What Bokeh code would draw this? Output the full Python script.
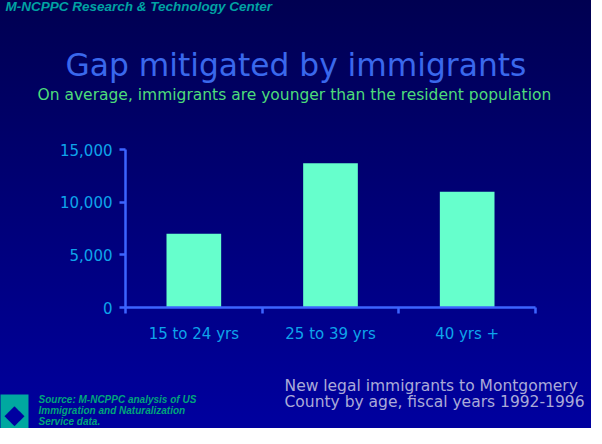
from bokeh.plotting import figure
from bokeh.models import Range1d, FixedTicker, NumeralTickFormatter, Title
from bokeh.embed import file_html
from bokeh.resources import INLINE

# ---- data ----
categories = ["15 to 24 yrs", "25 to 39 yrs", "40 yrs +"]
immigrants = [7000, 13700, 11000]
y_ticks = [0, 5000, 10000, 15000]

header = "M-NCPPC Research & Technology Center"
title = "Gap mitigated by immigrants"
subtitle = "On average, immigrants are younger than the resident population"
note_lines = ["New legal immigrants to Montgomery", "County by age, fiscal years 1992-1996"]
source_lines = ["Source: M-NCPPC analysis of US", "Immigration and Naturalization", "Service data."]

AXIS = "#3c64ff"
TICK_TXT = "#0ea4ea"

p = figure(width=591, height=428, output_backend="svg", toolbar_location=None,
           x_range=Range1d(0, len(categories)), y_range=Range1d(0, 15000),
           min_border_left=125, min_border_right=56, min_border_top=149, min_border_bottom=121)

p.background_fill_alpha = 0
p.border_fill_alpha = 0
p.outline_line_color = None
p.styles = {"background": "linear-gradient(to bottom, #000051, #00009f)"}
p.xgrid.visible = False
p.ygrid.visible = False

centers = [i + 0.5 for i in range(len(categories))]
p.vbar(x=centers, top=immigrants, width=0.4, color="#66ffcc", line_color=None)

xa = p.xaxis[0]
xa.ticker = FixedTicker(ticks=centers, minor_ticks=list(range(len(categories) + 1)))
xa.major_label_overrides = {c: lab for c, lab in zip(centers, categories)}
xa.major_tick_in = 0
xa.major_tick_out = 0
xa.minor_tick_in = 0
xa.minor_tick_out = 6
xa.minor_tick_line_color = AXIS
xa.minor_tick_line_width = 2.5
xa.major_label_standoff = 11

ya = p.yaxis[0]
ya.ticker = FixedTicker(ticks=y_ticks)
ya.formatter = NumeralTickFormatter(format="0,0")
ya.major_tick_in = 0
ya.major_tick_out = 6
ya.minor_tick_out = 0
ya.minor_tick_in = 0
ya.major_label_standoff = 7

for ax in (xa, ya):
    ax.axis_line_color = AXIS
    ax.axis_line_width = 2.5
    ax.major_tick_line_color = AXIS
    ax.major_tick_line_width = 2.5
    ax.major_label_text_color = TICK_TXT
    ax.major_label_text_font = "DejaVu Sans"
    ax.major_label_text_font_size = "15px"


def add_title(side, text, standoff, extra=None, **kw):
    base = dict(text=text, vertical_align="top", **kw)
    t = None
    if extra:
        try:
            t = Title(standoff=standoff, **base, **extra)
        except Exception:
            t = None
    if t is None:
        try:
            t = Title(standoff=standoff, **base)
        except ValueError:
            t = Title(standoff=max(standoff, 0), **base)
    p.add_layout(t, side)


# above panel: first added sits next to the frame
add_title("above", " ", 35.9, align="left", text_font_size="1px")
add_title("above", subtitle, 8.5, align="left", offset=-88, text_font="DejaVu Sans",
          text_font_size="15.5px", text_font_style="normal", text_color="#4ddc7a")
add_title("above", title, -8.4, align="left", offset=-60, text_font="DejaVu Sans",
          text_font_size="31.3px", text_font_style="normal", text_color="#3a68ec")
add_title("above", " ", 36.9, align="left", text_font_size="1px")
add_title("above", header, -8.9, align="left", offset=-120, text_font="Liberation Sans",
          text_font_size="13.5px", text_font_style="bold italic", text_color="#00a3a3")

# below panel (after the x axis)
add_title("below", " ", 30.9, align="left", text_font_size="1px")
add_title("below", "\n".join(note_lines), -5.5, align="right", offset=-49,
          text_font="DejaVu Sans", text_font_size="15.5px", text_font_style="normal",
          text_color="#aaaad8", text_line_height=0.914)
add_title("below", "\n".join(source_lines), -34, align="left", offset=-87,
          text_font="'Liberation Sans Narrow', 'Liberation Sans'", text_font_size="10px",
          text_font_style="bold italic", text_color="#00a57a", text_line_height=1.045)
add_title("below", "\u25c6", -36, extra=dict(padding=4), align="left", offset=-125,
          text_font="DejaVu Sans", text_font_size="26px", text_font_style="normal",
          text_color="#0000a0", background_fill_color="#00a8a0", background_fill_alpha=1)

open("out.html", "w").write(file_html(p, INLINE))
